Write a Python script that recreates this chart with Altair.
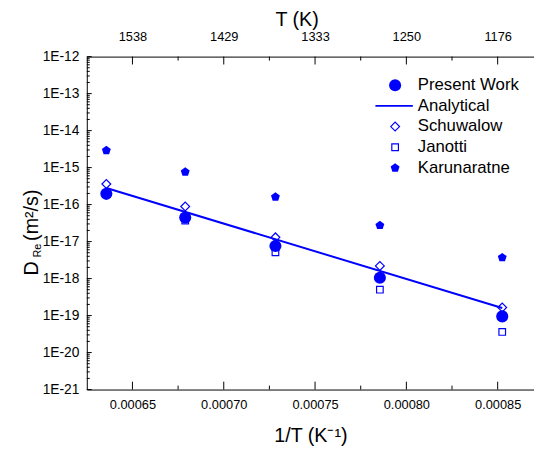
import altair as alt
import pandas as pd

# ---- data ----
inv_T = [0.0006357, 0.0006789, 0.0007283, 0.0007855, 0.0008525]
present = [1.95e-16, 4.5e-17, 7.6e-18, 1.05e-18, 9.5e-20]
schuwalow = [3.6e-16, 8.9e-17, 1.3e-17, 2.2e-18, 1.65e-19]
janotti = [1.95e-16, 3.7e-17, 5.1e-18, 5.0e-19, 3.6e-20]
karunaratne = [2.9e-15, 7.6e-16, 1.6e-16, 2.75e-17, 3.7e-18]
analytical_x = [0.0006357, 0.0008525]
analytical_y = [2.8e-16, 1.6e-19]

x_major = [0.00065, 0.00070, 0.00075, 0.00080, 0.00085]
x_minor = [0.000675, 0.000725, 0.000775, 0.000825]
y_major = [10.0 ** k for k in range(-21, -11)]
y_minor = [m * 10.0 ** k for k in range(-21, -12) for m in range(2, 10)]

legend_labels = ["Present Work", "Analytical", "Schuwalow", "Janotti", "Karunaratne"]

W, H = 454, 338
BLUE = "#0000ff"
FONT = "Liberation Sans"
PENTAGON = "M0,-1L0.951,-0.309L0.588,0.809L-0.588,0.809L-0.951,-0.309Z"

xs = alt.Scale(domain=[0.000625, 0.0008699], nice=False, zero=False)
ys = alt.Scale(type="log", domain=[1e-21, 1e-12], nice=False)

def pts(xv, yv):
    return pd.DataFrame({"x": xv, "y": yv})

one = pd.DataFrame({"a": [0]})

bottom_axis = alt.Axis(values=x_major, format=".5f", title="1/T (K⁻¹)", orient="bottom",
                       ticks=False, tickSize=0, grid=False, labelPadding=9, titlePadding=15)
left_axis = alt.Axis(values=y_major, labelExpr="'1E' + round(log(datum.value)/LN10)", title=None,
                     orient="left", ticks=False, tickSize=0, grid=False, labelPadding=8, labelFontSize=14)
top_axis = alt.Axis(values=x_major, labelExpr="format(1/datum.value, '.0f')", title="T (K)",
                    orient="top", ticks=False, tickSize=0, grid=False, labelPadding=13,
                    titlePadding=2, titleX=213, titleAlign="center")

line = alt.Chart(pts(analytical_x, analytical_y)).mark_line(color=BLUE, strokeWidth=2).encode(
    x=alt.X("x:Q", scale=xs, axis=bottom_axis),
    y=alt.Y("y:Q", scale=ys, axis=left_axis),
)

def sym(vals, shape, size, filled):
    return alt.Chart(pts(inv_T, vals)).mark_point(
        shape=shape, size=size, filled=filled, color=BLUE, strokeWidth=1.2, opacity=1
    ).encode(x=alt.X("x:Q", scale=xs, axis=None), y=alt.Y("y:Q", scale=ys, axis=None))

s_present = sym(present, "circle", 150, True)
s_schu = sym(schuwalow, "diamond", 80, False)
s_jan = sym(janotti, "square", 45, False)
s_kar = sym(karunaratne, PENTAGON, 90, True)

# inward ticks
tick_b_major = alt.Chart(pd.DataFrame({"x": x_major})).mark_rule(color="black").encode(
    x=alt.X("x:Q", scale=xs, axis=None), y=alt.value(H), y2=alt.value(H - 8))
tick_b_minor = alt.Chart(pd.DataFrame({"x": x_minor})).mark_rule(color="black").encode(
    x=alt.X("x:Q", scale=xs, axis=None), y=alt.value(H), y2=alt.value(H - 4))
tick_t_major = alt.Chart(pd.DataFrame({"x": x_major})).mark_rule(color="black").encode(
    x=alt.X("x:Q", scale=xs, axis=top_axis), y=alt.value(0), y2=alt.value(8))
tick_t_minor = alt.Chart(pd.DataFrame({"x": x_minor})).mark_rule(color="black").encode(
    x=alt.X("x:Q", scale=xs, axis=None), y=alt.value(0), y2=alt.value(4))
tick_l_major = alt.Chart(pd.DataFrame({"y": y_major})).mark_rule(color="black").encode(
    y=alt.Y("y:Q", scale=ys, axis=None), x=alt.value(0), x2=alt.value(5))
tick_l_minor = alt.Chart(pd.DataFrame({"y": y_minor})).mark_rule(color="black").encode(
    y=alt.Y("y:Q", scale=ys, axis=None), x=alt.value(0), x2=alt.value(3))

# legend (drawn manually)
lx, lt = 313, 336
ly = [29, 50, 71, 92, 113]
leg = [
    alt.Chart(one).mark_point(shape="circle", size=150, filled=True, color=BLUE, opacity=1).encode(
        x=alt.value(lx), y=alt.value(ly[0])),
    alt.Chart(one).mark_rule(color=BLUE, strokeWidth=2).encode(
        x=alt.value(lx - 20), x2=alt.value(lx + 18), y=alt.value(ly[1])),
    alt.Chart(one).mark_point(shape="diamond", size=80, filled=False, color=BLUE, strokeWidth=1.2, opacity=1).encode(
        x=alt.value(lx), y=alt.value(ly[2])),
    alt.Chart(one).mark_point(shape="square", size=45, filled=False, color=BLUE, strokeWidth=1.2, opacity=1).encode(
        x=alt.value(lx), y=alt.value(ly[3])),
    alt.Chart(one).mark_point(shape=PENTAGON, size=90, filled=True, color=BLUE, opacity=1).encode(
        x=alt.value(lx), y=alt.value(ly[4])),
]
for lab, yy in zip(legend_labels, ly):
    leg.append(alt.Chart(one).mark_text(text=lab, align="left", baseline="middle", font=FONT,
                                        fontSize=17, color="black").encode(
        x=alt.value(lt), y=alt.value(yy)))

# y title: D_Re (m²/s)
ytitle = [
    alt.Chart(one).mark_text(text="D", angle=270, align="center", baseline="middle", font=FONT,
                             fontSize=20, color="black").encode(x=alt.value(-56), y=alt.value(215)),
    alt.Chart(one).mark_text(text="Re", angle=270, align="center", baseline="middle", font=FONT,
                             fontSize=11, color="black").encode(x=alt.value(-50), y=alt.value(197)),
    alt.Chart(one).mark_text(text="(m²/s)", angle=270, align="center", baseline="middle", font=FONT,
                             fontSize=20, color="black").encode(x=alt.value(-56), y=alt.value(161)),
]

chart = alt.layer(
    line, tick_t_major, tick_t_minor, tick_b_major, tick_b_minor, tick_l_major, tick_l_minor,
    s_schu, s_jan, s_present, s_kar, *leg, *ytitle
).resolve_axis(x="independent", y="independent").properties(
    width=W, height=H,
    autosize=alt.AutoSizeParams(type="none"),
    padding={"left": 80, "top": 46, "right": 0, "bottom": 57},
).configure_view(stroke=None).configure_axis(
    labelFont=FONT, titleFont=FONT, labelFontSize=13, titleFontSize=20, titleFontWeight="normal",
    labelColor="black", titleColor="black", domainColor="black", domainWidth=1,
)

chart.save("out.html", embed_options={"renderer": "svg", "actions": False})
